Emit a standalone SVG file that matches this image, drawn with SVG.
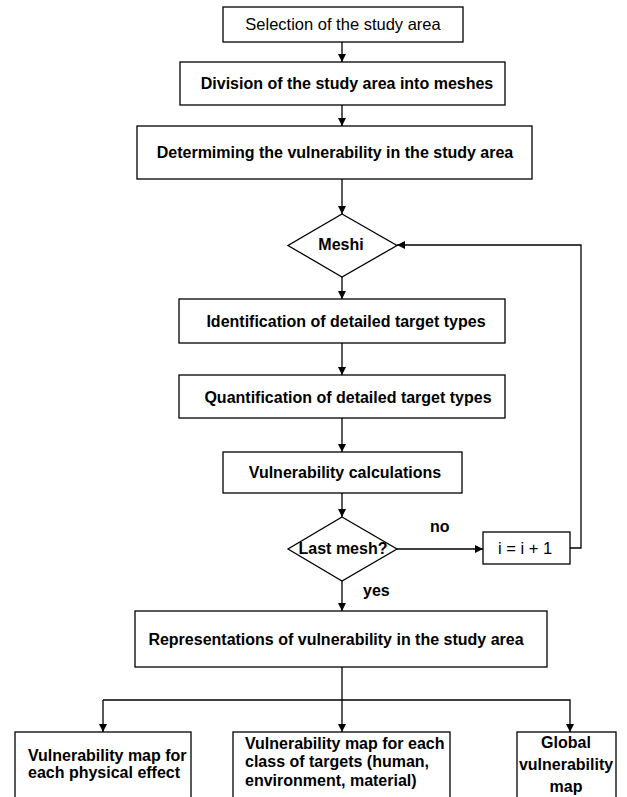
<svg xmlns="http://www.w3.org/2000/svg" width="627" height="797" viewBox="0 0 627 797">
<style>
.box{fill:#fff;stroke:#000;stroke-width:1.3}
.t{font-family:"Liberation Sans",Arial,sans-serif;font-size:16px;font-weight:bold;fill:#000}
.r{font-family:"Liberation Sans",Arial,sans-serif;font-size:16.5px;fill:#000}
.c{text-anchor:middle}
.ln{fill:none;stroke:#000;stroke-width:1.3}
</style>
<defs>
<marker id="ah" markerUnits="userSpaceOnUse" markerWidth="8" markerHeight="8" refX="8" refY="4" orient="auto">
<path d="M0,0 L8,4 L0,8 z" fill="#000"/>
</marker>
</defs>
<rect width="627" height="797" fill="#fff"/>
<g id="connectors">
<line class="ln" x1="342" y1="42" x2="342" y2="62" marker-end="url(#ah)"/>
<line class="ln" x1="342" y1="105" x2="342" y2="126" marker-end="url(#ah)"/>
<line class="ln" x1="342" y1="179" x2="342" y2="214" marker-end="url(#ah)"/>
<line class="ln" x1="342" y1="277" x2="342" y2="299" marker-end="url(#ah)"/>
<line class="ln" x1="342" y1="343" x2="342" y2="375" marker-end="url(#ah)"/>
<line class="ln" x1="342" y1="418" x2="342" y2="452" marker-end="url(#ah)"/>
<line class="ln" x1="342" y1="493" x2="342" y2="517" marker-end="url(#ah)"/>
<line class="ln" x1="342" y1="581" x2="342" y2="611" marker-end="url(#ah)"/>
<line class="ln" x1="397" y1="549" x2="483" y2="549" marker-end="url(#ah)"/>
<polyline class="ln" points="570,548 581,548 581,245 397,245" marker-end="url(#ah)"/>
<line class="ln" x1="342" y1="667" x2="342" y2="700"/>
<polyline class="ln" points="103,700 570,700 570,732" marker-end="url(#ah)"/>
<line class="ln" x1="103" y1="700" x2="103" y2="732" marker-end="url(#ah)"/>
<line class="ln" x1="342" y1="700" x2="342" y2="732" marker-end="url(#ah)"/>
<text class="t" x="430" y="532">no</text>
<text class="t" x="363" y="596">yes</text>
</g>
<g id="n1"><rect class="box" x="223" y="7" width="240" height="35"/><text class="r c" x="343" y="30">Selection of the study area</text></g>
<g id="n2"><rect class="box" x="180" y="62" width="325" height="43"/><text class="t c" x="347" y="89">Division of the study area into meshes</text></g>
<g id="n3"><rect class="box" x="137" y="126" width="395" height="53"/><text class="t c" x="335" y="158">Determiming the vulnerability in the study area</text></g>
<g id="n4"><polygon class="box" points="342,214 397,245.5 342,277 288,245.5"/><text class="t c" x="341" y="250">Meshi</text></g>
<g id="n5"><rect class="box" x="179" y="299" width="326" height="44"/><text class="t c" x="346" y="327">Identification of detailed target types</text></g>
<g id="n6"><rect class="box" x="179" y="375" width="326" height="43"/><text class="t c" x="348" y="403">Quantification of detailed target types</text></g>
<g id="n7"><rect class="box" x="223" y="452" width="239" height="41"/><text class="t c" x="345" y="478">Vulnerability calculations</text></g>
<g id="n8"><polygon class="box" points="342,517 397,549 342,581 288,549"/><text class="t c" x="343" y="554">Last mesh?</text></g>
<g id="n9"><rect class="box" x="483" y="532" width="87" height="32"/><text class="r c" x="525" y="554">i = i + 1</text></g>
<g id="n10"><rect class="box" x="135" y="611" width="412" height="56"/><text class="t c" x="336" y="645">Representations of vulnerability in the study area</text></g>
<g id="n11"><rect class="box" x="15" y="732" width="176" height="70"/><text class="t" x="28" y="761">Vulnerability map for</text><text class="t" x="28" y="778">each physical effect</text></g>
<g id="n12"><rect class="box" x="233" y="732" width="217" height="70"/><text class="t" x="245" y="749">Vulnerability map for each</text><text class="t" x="245" y="767">class of targets (human,</text><text class="t" x="245" y="786">environment, material)</text></g>
<g id="n13"><rect class="box" x="517" y="732" width="99" height="70"/><text class="t c" x="566" y="748">Global</text><text class="t c" x="566" y="770">vulnerability</text><text class="t c" x="566" y="792">map</text></g>
</svg>
